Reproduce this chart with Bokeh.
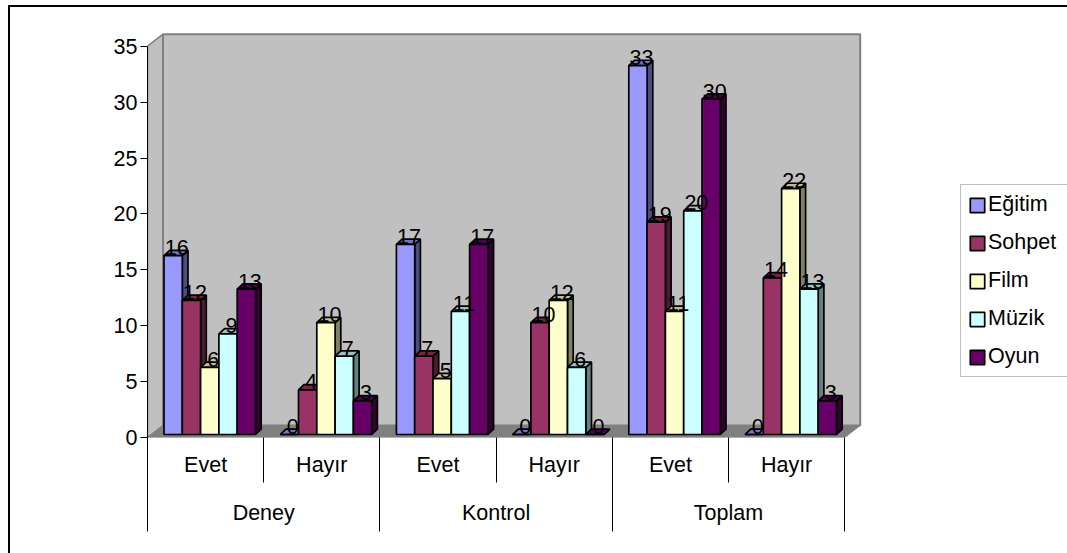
from bokeh.embed import file_html
from bokeh.resources import INLINE
from bokeh.plotting import figure
from bokeh.models import FixedTicker, LinearAxis, Range1d
from bokeh.core.properties import value

# Survey counts per group / answer
groups = ["Deney", "Kontrol", "Toplam"]
answers = ["Evet", "Hayır", "Evet", "Hayır", "Evet", "Hayır"]
egitim = [16, 0, 17, 0, 33, 0]
sohpet = [12, 4, 7, 10, 19, 14]
film = [6, 10, 5, 12, 11, 22]
muzik = [9, 7, 11, 6, 20, 13]
oyun = [13, 3, 17, 0, 30, 3]
series_names = ["Eğitim", "Sohpet", "Film", "Müzik", "Oyun"]
series_values = [egitim, sohpet, film, muzik, oyun]
front_colors = ["#9999FF", "#993366", "#FFFFCC", "#CCFFFF", "#660066"]
top_colors = ["#7373BF", "#732640", "#BFBF99", "#99BFBF", "#4D004D"]
side_colors = ["#4C4C80", "#4D1A33", "#808066", "#668080", "#330033"]
y_ticks = [0, 5, 10, 15, 20, 25, 30, 35]

# Pixel scale of the plotting frame
PX_X = 116.2
PX_Y = 11.18
FRAME_W = 920
FRAME_H = 437
FONT = "Liberation Sans"
FS = "21.5px"


def xu(px):
    return px / PX_X


def yu(px):
    return px / PX_Y


p = figure(width=1067, height=553, output_backend="svg", toolbar_location=None,
           x_range=Range1d(0, xu(FRAME_W)), y_range=Range1d(0, yu(FRAME_H)),
           x_axis_type=None, y_axis_type=None,
           min_border_left=147, min_border_right=0, min_border_top=0, min_border_bottom=116,
           background_fill_alpha=0, border_fill_alpha=0, outline_line_color=None)
p.grid.visible = False

# Chart-area border: only the top and left edges are drawn
p.styles = {
    "background-color": "white",
    "background-image": "linear-gradient(black, black), linear-gradient(black, black)",
    "background-size": "2px 548px, 1059px 2px",
    "background-position": "8px 5px, 8px 5px",
    "background-repeat": "no-repeat",
}

# Walls and floor of the box
WALL_DX, WALL_DY = xu(15.5), yu(12)
n = len(answers)
p.patch([0, WALL_DX, WALL_DX, 0], [0, WALL_DY, 35 + WALL_DY, 35],
        fill_color="#C0C0C0", line_color="#808080", line_width=1.5)
p.quad(left=[WALL_DX], right=[n + WALL_DX], bottom=[WALL_DY], top=[35 + WALL_DY],
       fill_color="#C0C0C0", line_color="#808080", line_width=2)
p.patch([0, n, n + WALL_DX, WALL_DX], [0, 0, WALL_DY, WALL_DY],
        fill_color="#808080", line_color="#808080", line_width=1)

# Bars: one front, side and top face per value, drawn left to right in each group
BAR_W = xu(18.3)
BAR_START = xu(16.5)
BASE = yu(3)
DX, DY = xu(5.7), yu(5.3)
EDGE = 1.7
for s, (name, vals) in enumerate(zip(series_names, series_values)):
    lefts = [g + BAR_START + s * BAR_W for g in range(n)]
    rights = [l + BAR_W for l in lefts]
    tops = [v + BASE for v in vals]
    side_x = [[r, r + DX, r + DX, r] for r in rights]
    side_y = [[BASE, BASE + DY, t + DY, t] for t in tops]
    top_x = [[l, l + DX, r + DX, r] for l, r in zip(lefts, rights)]
    top_y = [[t, t + DY, t + DY, t] for t in tops]
    p.patches(side_x, side_y, fill_color=side_colors[s], line_color="black", line_width=EDGE)
    p.patches(top_x, top_y, fill_color=top_colors[s], line_color="black", line_width=EDGE)
    p.quad(left=lefts, right=rights, bottom=[BASE] * n, top=tops,
           fill_color=front_colors[s], line_color="black", line_width=EDGE, legend_label=name)

# Value labels sit on top of everything else
for s, vals in enumerate(series_values):
    xs = [g + BAR_START + (s + 0.5) * BAR_W + xu(3.5) for g in range(n)]
    ys = [v + BASE + yu(8) for v in vals]
    p.text(xs, ys, text=[str(v) for v in vals], text_font=value(FONT), text_font_size=FS,
           text_color="black", text_align="center", text_baseline="alphabetic")

# Value axis
y_axis = LinearAxis(ticker=FixedTicker(ticks=y_ticks), bounds=(0, 35),
                    axis_line_color="black", axis_line_width=1,
                    major_tick_out=7, major_tick_in=0, major_tick_line_color="black",
                    minor_tick_out=0, minor_tick_in=0, major_label_standoff=3,
                    major_label_text_font=FONT, major_label_text_font_size=FS,
                    major_label_text_color="black")
p.add_layout(y_axis, "left")

# Two-level category axis: answers above, groups below, with long separator ticks
answer_ticks = [i + 0.5 for i in range(n)]
answer_axis = LinearAxis(ticker=FixedTicker(ticks=answer_ticks, minor_ticks=list(range(n + 1))),
                         major_label_overrides={t: a for t, a in zip(answer_ticks, answers)},
                         axis_line_color=None, major_tick_out=0, major_tick_in=0,
                         minor_tick_out=45, minor_tick_in=0, minor_tick_line_color="black",
                         major_label_standoff=-30, major_label_text_font=FONT,
                         major_label_text_font_size=FS, major_label_text_color="black")
p.add_layout(answer_axis, "below")

group_ticks = [i * 2 + 1 for i in range(len(groups))]
group_axis = LinearAxis(ticker=FixedTicker(ticks=group_ticks,
                                           minor_ticks=[i * 2 for i in range(len(groups) + 1)]),
                        major_label_overrides={t: g for t, g in zip(group_ticks, groups)},
                        axis_line_color=None, major_tick_out=0, major_tick_in=0,
                        minor_tick_out=52, minor_tick_in=0, minor_tick_line_color="black",
                        major_label_standoff=-31, major_label_text_font=FONT,
                        major_label_text_font_size=FS, major_label_text_color="black")
p.add_layout(group_axis, "below")

# Legend
lg = p.legend[0]
lg.location = (813, 60)
lg.margin = 0
lg.padding = 7
lg.spacing = 13
lg.label_height = 20
lg.glyph_width = 18
lg.glyph_height = 18
lg.label_standoff = 2
lg.label_width = 72
lg.label_text_font = FONT
lg.label_text_font_size = FS
lg.label_text_color = "black"
lg.border_line_color = "#808080"
lg.border_line_width = 1.5
lg.background_fill_color = "white"
lg.background_fill_alpha = 1

open("out.html", "w").write(file_html(p, INLINE))
